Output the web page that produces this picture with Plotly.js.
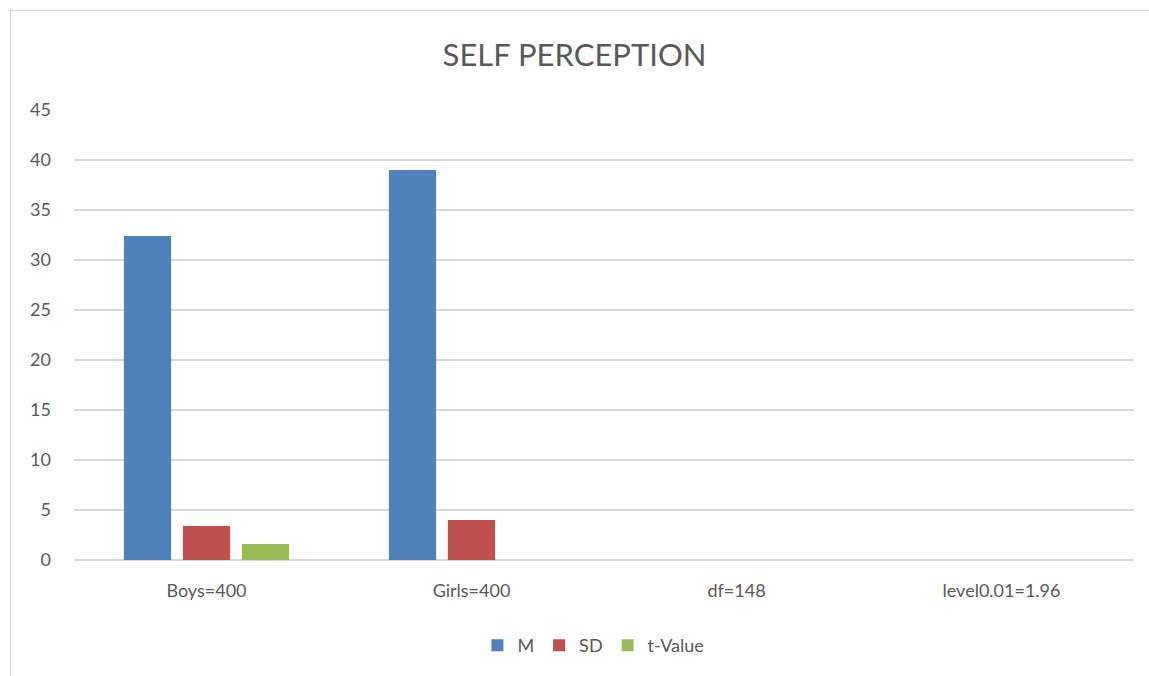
<!DOCTYPE html>
<html>
<head>
<meta charset="utf-8">
<script src="https://cdn.plot.ly/plotly-3.0.1.min.js"></script>
<style>
html,body{margin:0;padding:0;background:#fff;overflow:hidden;}
#frame{position:absolute;left:10px;top:10px;width:1200px;height:700px;border:1px solid #d9d9d9;box-sizing:border-box;}
#chart{position:absolute;left:0;top:0;width:1149px;height:676px;}
</style>
</head>
<body>
<div id="frame"></div>
<div id="chart"></div>
<script>
const categories = ["Boys=400", "Girls=400", "df=148", "level0.01=1.96"];
const seriesNames = ["M", "SD", "t-Value"];
const M = [32.4, 39.0, null, null];
const SD = [3.4, 4.0, null, null];
const tValue = [1.6, null, null, null];
const yTicks = [0, 5, 10, 15, 20, 25, 30, 35, 40, 45];
const colors = ["#4f81bd", "#c0504d", "#9bbb59"];

const font = "Lato, 'Open Sans', sans-serif";
const data = [M, SD, tValue].map((vals, i) => ({
  type: "bar",
  name: seriesNames[i],
  x: categories,
  y: vals,
  marker: {color: colors[i]}
}));

const layout = {
  width: 1149, height: 676,
  paper_bgcolor: "rgba(0,0,0,0)",
  plot_bgcolor: "rgba(0,0,0,0)",
  margin: {l: 74, r: 15, t: 110, b: 116},
  font: {family: font, color: "#595959", size: 18},
  title: {text: "SELF PERCEPTION", font: {family: font, size: 31, color: "#595959"}, x: 0.5, xanchor: "center", y: 0.918, yanchor: "middle"},
  barmode: "group",
  bargap: 0.332,
  bargroupgap: 0.2,
  xaxis: {
    type: "category",
    showgrid: false,
    zeroline: false,
    showline: false,
    ticks: "",
    ticklabelstandoff: 18,
    tickfont: {size: 18, color: "#595959"}
  },
  yaxis: {
    range: [0, 45],
    tickvals: yTicks,
    showgrid: true,
    gridcolor: "#d9d9d9",
    gridwidth: 1.5,
    zeroline: true,
    zerolinecolor: "#d9d9d9",
    zerolinewidth: 1.5,
    showline: false,
    ticks: "",
    ticklabelstandoff: 22,
    tickfont: {size: 18, color: "#595959"}
  },
  showlegend: true,
  legend: {
    orientation: "h",
    x: 0.49, xanchor: "center",
    y: -0.19, yanchor: "middle",
    font: {size: 18, color: "#595959"},
    itemwidth: 30,
    traceorder: "normal"
  }
};

Plotly.newPlot("chart", data, layout, {displayModeBar: false});
</script>
</body>
</html>
